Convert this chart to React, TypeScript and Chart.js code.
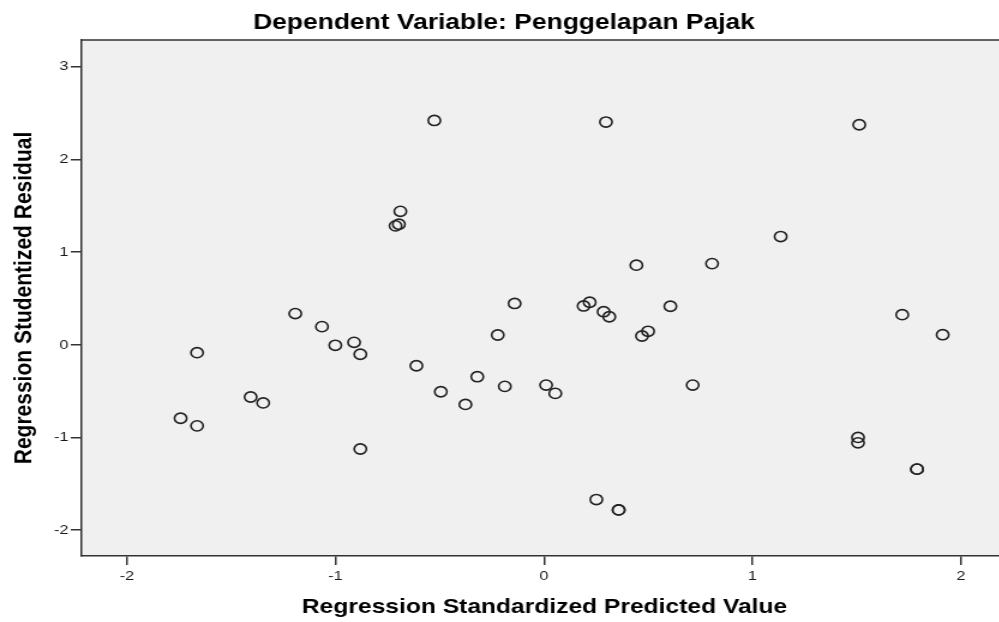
import { useEffect, useRef } from "react";
import { Chart, registerables } from "chart.js";

Chart.register(...registerables);

// ---- data ----
const predictedValues = [
  -1.743, -1.664, -1.664, -1.407, -1.347, -1.193, -1.065, -1.001, -0.911, -0.881,
  -0.881, -0.712, -0.696, -0.689, -0.612, -0.526, -0.495, -0.377, -0.32, -0.222,
  -0.188, -0.141, 0.01, 0.054, 0.19, 0.219, 0.251, 0.286, 0.297, 0.313,
  0.358, 0.358, 0.443, 0.47, 0.499, 0.606, 0.713, 0.806, 1.135, 1.506,
  1.506, 1.512, 1.718, 1.789, 1.789, 1.912,
];
const studentizedResiduals = [
  -0.792, -0.874, -0.085, -0.563, -0.627, 0.337, 0.196, -0.005, 0.027, -0.102,
  -1.124, 1.283, 1.301, 1.44, -0.226, 2.42, -0.506, -0.643, -0.344, 0.106,
  -0.448, 0.446, -0.434, -0.524, 0.419, 0.459, -1.669, 0.357, 2.403, 0.303,
  -1.781, -1.781, 0.859, 0.095, 0.146, 0.416, -0.434, 0.876, 1.168, -0.999,
  -1.057, 2.374, 0.325, -1.341, -1.341, 0.109,
];
const xTickValues = [-2, -1, 0, 1, 2];
const yTickValues = [-2, -1, 0, 1, 2, 3];
const chartTitle = "Dependent Variable: Penggelapan Pajak";
const xAxisTitle = "Regression Standardized Predicted Value";
const yAxisTitle = "Regression Studentized Residual";

// ---- layout / style ----
const STRETCH = 1.2;
const CANVAS_W = 840;
const CANVAS_H = 622;
const FONT = "'Liberation Sans', Arial, sans-serif";
const AXIS_COLOR = "#333333";

const framePlugin = {
  id: "spssFrame",
  beforeDraw(chart: any) {
    const { ctx, chartArea } = chart;
    const { left, top, right, bottom } = chartArea;
    ctx.save();
    ctx.fillStyle = "#f0f0f0";
    ctx.fillRect(left, top, right - left, bottom - top);
    ctx.restore();
  },
  afterDatasetsDraw(chart: any) {
    const { ctx, chartArea } = chart;
    const { left, top, right, bottom } = chartArea;
    ctx.save();
    ctx.strokeStyle = AXIS_COLOR;
    ctx.lineWidth = 1.5;
    ctx.beginPath();
    ctx.moveTo(left, top);
    ctx.lineTo(right, top);
    ctx.moveTo(right - 0.75, top);
    ctx.lineTo(right - 0.75, bottom);
    ctx.stroke();
    ctx.restore();
  },
};

export default function App() {
  const canvasRef = useRef<HTMLCanvasElement>(null);

  useEffect(() => {
    document.body.style.margin = "0";
    const canvas = canvasRef.current!;
    const points = predictedValues.map((x, i) => ({ x, y: studentizedResiduals[i] }));

    const chart = new Chart(canvas, {
      type: "scatter",
      data: {
        datasets: [
          {
            data: points,
            pointStyle: "circle",
            pointRadius: 5.1,
            pointHoverRadius: 5.1,
            pointBorderWidth: 1.6,
            borderColor: "#222222",
            backgroundColor: "rgba(0,0,0,0)",
          },
        ],
      },
      options: {
        responsive: false,
        animation: false,
        events: [],
        layout: { padding: 0, autoPadding: false },
        plugins: {
          legend: { display: false },
          tooltip: { enabled: false },
          title: {
            display: true,
            text: chartTitle,
            color: "#000",
            font: { family: FONT, size: 22, weight: "bold" },
            padding: { top: 10, bottom: 3.6 },
          },
        },
        scales: {
          x: {
            type: "linear",
            min: -2.2206,
            max: 2.2254,
            afterBuildTicks: (s: any) => {
              s.ticks = xTickValues.map((v) => ({ value: v }));
            },
            afterFit: (s: any) => {
              s.height = 66;
            },
            grid: {
              drawOnChartArea: false,
              drawTicks: true,
              tickLength: 9,
              color: AXIS_COLOR,
              lineWidth: 1.5,
            },
            border: { display: true, color: AXIS_COLOR, width: 1.5 },
            ticks: {
              autoSkip: false,
              maxRotation: 0,
              padding: 3,
              color: "#1a1a1a",
              font: { family: FONT, size: 13.5 },
              callback: (v: any) => String(v),
            },
            title: {
              display: true,
              text: xAxisTitle,
              color: "#000",
              font: { family: FONT, size: 20.5, weight: "bold" },
              padding: { top: 0, bottom: 2.5 },
            },
          },
          y: {
            type: "linear",
            min: -2.278,
            max: 3.288,
            afterBuildTicks: (s: any) => {
              s.ticks = yTickValues.map((v) => ({ value: v }));
            },
            afterFit: (s: any) => {
              s.width = 67.5;
            },
            grid: {
              drawOnChartArea: false,
              drawTicks: true,
              tickLength: 8.5,
              color: AXIS_COLOR,
              lineWidth: 1.5,
            },
            border: { display: true, color: AXIS_COLOR, width: 1.5 },
            ticks: {
              autoSkip: false,
              padding: 2,
              color: "#1a1a1a",
              font: { family: FONT, size: 13.5 },
              callback: (v: any) => String(v),
            },
            title: {
              display: true,
              text: yAxisTitle,
              color: "#000",
              font: { family: FONT, size: 21, weight: "bold" },
              padding: { top: 7.4, bottom: 0 },
            },
          },
        },
      },
      plugins: [framePlugin],
    } as any);

    return () => chart.destroy();
  }, []);

  return (
    <div
      style={{
        position: "absolute",
        left: 0,
        top: 0,
        width: 999,
        height: 622,
        overflow: "hidden",
        background: "#fff",
      }}
    >
      <canvas
        ref={canvasRef}
        width={CANVAS_W}
        height={CANVAS_H}
        style={{ width: `${CANVAS_W * STRETCH}px`, height: `${CANVAS_H}px`, display: "block" }}
      />
    </div>
  );
}
